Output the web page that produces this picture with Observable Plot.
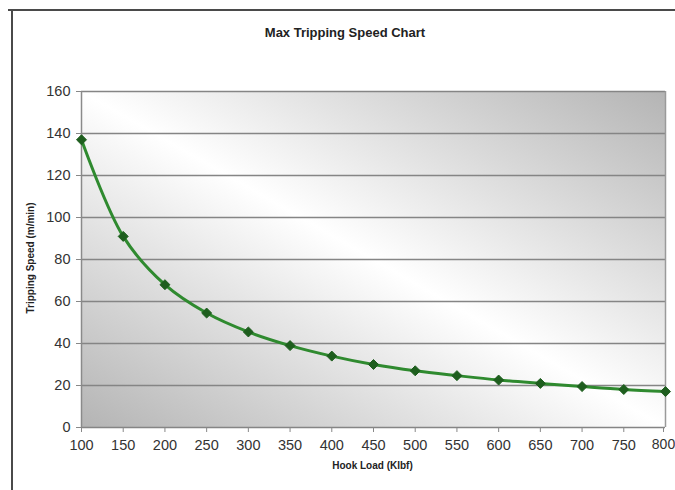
<!DOCTYPE html>
<html>
<head>
<meta charset="utf-8">
<script src="https://cdn.jsdelivr.net/npm/d3@7"></script>
<script src="https://cdn.jsdelivr.net/npm/@observablehq/plot@0.6"></script>
<style>
  html, body { margin: 0; padding: 0; background: #fff; }
  #wrap { position: relative; width: 675px; height: 490px; overflow: hidden; font-family: "Liberation Sans", Arial, sans-serif; }
  #topline { position: absolute; left: 8px; top: 9px; width: 667px; height: 2px; background: #4a4a4a; }
  #leftline { position: absolute; left: 11px; top: 9px; width: 2px; height: 481px; background: #4a4a4a; }
  #title { position: absolute; left: 0; width: 690px; top: 25px; text-align: center; font-weight: bold; font-size: 13px; color: #222; }
  #xtitle { position: absolute; left: 0; width: 745px; top: 460px; text-align: center; font-weight: bold; font-size: 10px; color: #222; }
  #ytitle { position: absolute; left: 30px; top: 258px; transform: translate(-50%, -50%) rotate(-90deg); white-space: nowrap; font-weight: bold; font-size: 10px; color: #222; }
  #chart { position: absolute; left: 0; top: 0; }
</style>
</head>
<body>
<div id="wrap">
  <div id="chart"></div>
  <div id="topline"></div>
  <div id="leftline"></div>
  <div id="title">Max Tripping Speed Chart</div>
  <div id="ytitle">Tripping Speed (m/min)</div>
  <div id="xtitle">Hook Load (Klbf)</div>
</div>
<script>
const hookLoad = [100, 150, 200, 250, 300, 350, 400, 450, 500, 550, 600, 650, 700, 750, 800];
const tripSpeed = [137, 91, 68, 54.5, 45.5, 39, 34, 30, 27, 24.7, 22.6, 21, 19.5, 18.1, 17.1];
const xTicks = [100, 150, 200, 250, 300, 350, 400, 450, 500, 550, 600, 650, 700, 750];
const xLastTick = [800];
const yTicks = [0, 20, 40, 60, 80, 100, 120, 140, 160];

const data = hookLoad.map((x, i) => ({x, y: tripSpeed[i]}));

const defsMark = () => {
  const svgNS = "http://www.w3.org/2000/svg";
  const defs = document.createElementNS(svgNS, "defs");
  defs.innerHTML = `<linearGradient id="bgGrad" x1="0" y1="1" x2="1" y2="0">
      <stop offset="0" stop-color="#b4b4b4"/>
      <stop offset="0.5" stop-color="#ffffff"/>
      <stop offset="1" stop-color="#b4b4b4"/>
    </linearGradient>`;
  return defs;
};

const chart = Plot.plot({
  width: 675,
  height: 490,
  marginLeft: 81,
  marginRight: 10,
  marginTop: 91,
  marginBottom: 63,
  style: { fontFamily: "'Liberation Sans', Arial, sans-serif", fontSize: "14.5px", color: "#333", background: "transparent", overflow: "visible" },
  x: { domain: [100, 800] },
  y: { domain: [0, 160] },
  marks: [
    defsMark,
    Plot.frame({ fill: "url(#bgGrad)", stroke: "none" }),
    Plot.ruleY(yTicks, { stroke: "#858585", strokeWidth: 1.5 }),
    Plot.ruleX([800], { stroke: "#9a9a9a", strokeWidth: 1.5 }),
    Plot.ruleX([100], { stroke: "#8a8a8a", strokeWidth: 1.5 }),
    Plot.axisY({ ticks: yTicks, tickSize: 5, tickPadding: 6, label: null, stroke: "#888", fontSize: 14.5 }),
    Plot.axisX({ ticks: xTicks, tickSize: 5, tickPadding: 7, label: null, stroke: "#888", fontSize: 14.5, tickFormat: d => String(d) }),
    Plot.axisX({ ticks: xLastTick, tickSize: 5, tickPadding: 7, label: null, stroke: "#888", fontSize: 14, dx: -2, tickFormat: d => String(d) }),
    Plot.line(data, { x: "x", y: "y", curve: "catmull-rom", stroke: "#2f8a2f", strokeWidth: 3 }),
    Plot.dot(data, { x: "x", y: "y", symbol: "diamond2", r: 4.5, fill: "#1e5e1e", stroke: "#1e5e1e", strokeWidth: 1 })
  ]
});
document.getElementById("chart").appendChild(chart);
</script>
</body>
</html>
